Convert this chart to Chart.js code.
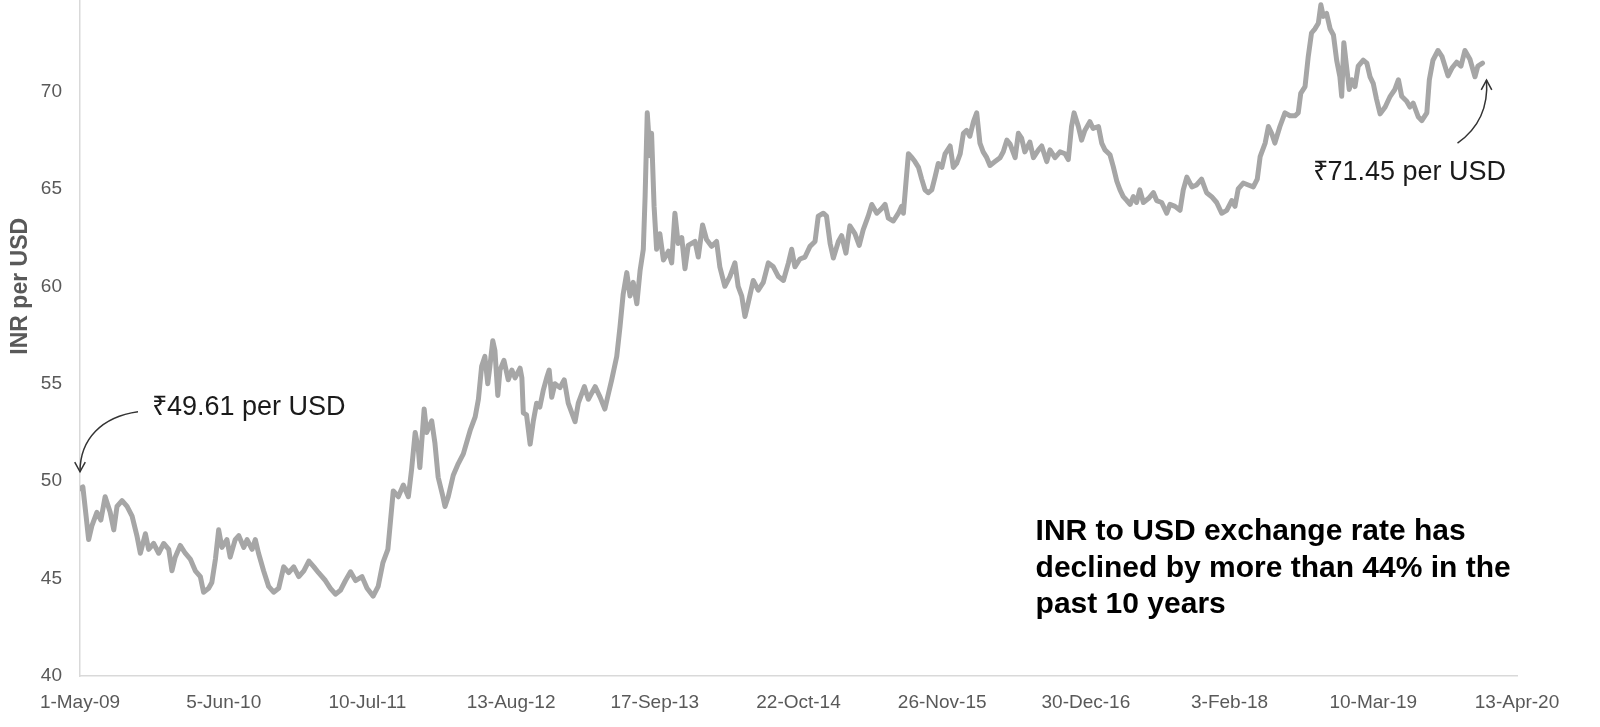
<!DOCTYPE html>
<html><head><meta charset="utf-8">
<script src="https://cdn.jsdelivr.net/npm/chart.js@4.4.1/dist/chart.umd.min.js"></script>
<style>
html,body{margin:0;padding:0;background:#fff;overflow:hidden;width:1600px;height:727px;}
#wrap{position:absolute;left:0;top:-40px;width:1600px;height:767px;}
</style></head><body>
<div id="wrap"><canvas id="c"></canvas></div>
<script>
const tickLabels = ['1-May-09','5-Jun-10','10-Jul-11','13-Aug-12','17-Sep-13','22-Oct-14','26-Nov-15','30-Dec-16','3-Feb-18','10-Mar-19','13-Apr-20'];
const yTitle = 'INR per USD';
const startNote = '₹49.61 per USD';
const endNote = '₹71.45 per USD';
const calloutLines = ['INR to USD exchange rate has','declined by more than 44% in the','past 10 years'];

// days since 1-May-09
const dayOffsets = [0,8,17,24,33,47,58,70,84,94,103,117,131,145,159,168,182,191,205,219,233,247,256,265,279,293,307,321,335,344,358,367,377,386,395,409,418,432,442,456,465,479,488,497,511,525,539,553,567,581,595,609,623,637,651,664,683,697,711,725,739,753,767,785,799,816,830,843,857,863,872,
886,900,914,923,933,942,946,958,965,979,988,997,1009,1016,1025,1039,1053,1067,1086,1100,1109,1118,1127,1135,1141,1149,1155,1163,1169,1180,1192,1202,1211,1225,1230,1234,1243,1253,1262,1271,1280,1290,1299,1306,1313,1322,1336,1348,1359,1369,1378,1387,1404,1415,1434,1448,1461,1471,1480,1494,1503,1512,1522,1531,1540,1550,1559,1568,
1573,1579,1587,1591,1598,1605,1614,1624,1638,1647,1656,1665,1675,1684,1693,1712,1721,1733,1744,1758,1772,1781,1795,1809,1823,1832,1842,1851,1860,1874,1888,1902,1916,1930,1944,1958,1972,1981,1990,2004,2018,2032,2046,2055,2069,2078,2088,2097,2111,2120,2132,2143,2157,2169,2180,2194,2204,2218,2232,2241,2250,2264,2278,2287,2292,2299,2306,
2316,2324,2334,2343,2352,2361,2371,2380,2389,2399,2408,2422,2431,2440,2450,2459,2468,2477,2487,2496,2505,2514,2524,2533,2547,2561,2570,2580,2589,2603,2612,2621,2630,2644,2654,2668,2677,2691,2700,2714,2728,2742,2751,2760,2767,2779,2788,2797,2811,2820,2835,2844,2853,2867,2876,2886,2895,2904,2914,2923,2932,2941,2950,2960,2974,2988,2997,3011,3025,3034,3048,3062,
3071,3081,3095,3108,3122,3136,3150,3164,3178,3192,3206,3215,3224,3238,3252,3266,3277,3285,3299,3308,3317,3326,3340,3354,3368,3382,3391,3398,3410,3419,3428,3437,3447,3454,3461,3470,3480,3489,3498,3507,3512,3518,3526,3533,3540,3549,3558,3572,3582,3591,3600,3609,3619,3633,3647,3660,3670,3679,3693,3702,3711,3725,3735,3749,3756,3766,3780,3791,3808,3819,3832,3844,3855,3869,3883,3891,3904];

const rates = [49.61,49.7,48.2,47.0,47.7,48.4,48.0,49.2,48.4,47.5,48.7,49.0,48.7,48.2,47.15,46.3,47.3,46.5,46.8,46.3,46.8,46.5,45.4,46.1,46.7,46.3,46.0,45.4,45.1,44.3,44.5,44.8,46.0,47.5,46.6,47.0,46.1,47.0,47.2,46.6,47.0,46.5,47.0,46.3,45.4,44.6,44.3,44.5,45.6,45.3,45.6,45.1,45.4,45.9,45.6,45.3,44.9,44.5,44.2,44.4,44.9,45.35,44.9,45.1,44.5,44.1,44.6,45.8,46.5,47.7,49.5,
49.2,49.8,49.2,50.6,52.5,51.6,50.7,53.7,52.5,53.1,51.95,50.2,49.3,48.7,49.2,50.3,50.9,51.4,52.6,53.3,54.2,55.9,56.4,55.0,55.9,57.2,56.7,54.4,55.7,56.2,55.2,55.7,55.3,55.8,55.3,53.5,53.4,51.9,53.1,54.0,53.8,54.7,55.3,55.7,54.3,55.0,54.8,55.2,54.0,53.5,53.05,54.0,54.85,54.2,54.85,54.3,53.7,54.5,55.2,56.4,57.9,59.6,60.7,59.5,60.2,59.1,60.8,61.9,
64.6,68.9,66.7,67.85,64.1,61.9,62.7,61.35,61.8,61.2,63.75,62.2,62.5,60.9,62.1,62.3,61.5,63.15,62.4,62.05,62.3,61.0,60.0,60.5,61.2,60.0,59.5,58.45,59.15,60.3,59.8,60.2,61.2,61.0,60.5,60.3,61.2,61.9,61.0,61.4,61.5,62.05,62.3,63.6,63.75,63.6,62.2,61.45,62.3,62.6,61.7,63.1,62.7,62.1,62.9,63.6,64.2,63.75,64.0,64.2,63.5,63.35,63.75,64.1,63.75,65.3,66.8,
66.6,66.4,66.1,65.5,64.95,64.8,64.95,65.6,66.3,66.1,66.8,67.2,66.1,66.3,66.8,67.85,68.0,67.7,68.45,68.9,67.35,66.9,66.6,66.2,66.4,66.6,66.9,67.5,67.3,66.6,67.85,67.6,66.9,67.4,66.6,67.0,67.2,66.4,67.0,66.6,66.9,66.8,66.5,68.2,68.9,68.2,67.5,68.0,68.45,68.1,68.2,67.35,67.0,66.75,66.15,65.4,64.95,64.6,64.4,64.2,64.6,64.3,64.95,64.3,64.5,64.8,64.4,64.3,63.75,64.2,64.1,63.9,
64.95,65.6,65.1,65.2,65.5,64.8,64.6,64.3,63.75,63.9,64.4,64.1,65.0,65.3,65.2,65.1,65.5,66.65,67.35,68.2,67.85,67.35,68.2,68.9,68.75,68.75,68.9,69.9,70.25,71.8,73.0,73.2,73.5,74.45,73.85,74.0,73.2,72.9,71.6,70.75,69.75,72.5,71.2,70.1,70.6,70.25,71.3,71.6,71.45,70.75,70.4,69.6,68.85,69.2,69.75,70.1,70.6,69.75,69.5,69.2,69.4,68.7,68.5,68.9,70.6,71.6,72.1,71.8,70.8,71.2,71.5,71.3,72.1,71.65,70.75,71.3,71.45];

const FONT = "'Liberation Sans', Arial, Helvetica, sans-serif";
const points = dayOffsets.map((d, i) => ({x: d, y: rates[i]}));

function arrowHead(ctx, tipX, tipY, ang) {
  const L = 11, spread = 0.5;
  ctx.beginPath();
  ctx.moveTo(tipX - L * Math.cos(ang - spread), tipY - L * Math.sin(ang - spread));
  ctx.lineTo(tipX, tipY);
  ctx.lineTo(tipX - L * Math.cos(ang + spread), tipY - L * Math.sin(ang + spread));
  ctx.stroke();
}

const notesPlugin = {
  id: 'notes',
  afterDraw(chart) {
    const ctx = chart.ctx;
    const xs = chart.scales.x, ys = chart.scales.y;
    const ca = chart.chartArea;
    ctx.save();
    // y axis title
    ctx.save();
    ctx.translate(ca.left - 59, ys.getPixelForValue(60.0));
    ctx.rotate(-Math.PI / 2);
    ctx.font = 'bold 23px ' + FONT;
    ctx.fillStyle = '#595959';
    ctx.textAlign = 'center';
    ctx.textBaseline = 'middle';
    ctx.fillText(yTitle, 0, 0);
    ctx.restore();

    // start annotation
    const fx = xs.getPixelForValue(dayOffsets[0]);
    const fy = ys.getPixelForValue(rates[0]);
    ctx.fillStyle = '#1a1a1a';
    ctx.font = '27px ' + FONT;
    ctx.textAlign = 'left';
    ctx.textBaseline = 'middle';
    ctx.fillText(startNote, fx + 72, fy - 81);
    ctx.strokeStyle = '#333';
    ctx.lineWidth = 1.5;
    ctx.beginPath();
    ctx.moveTo(fx + 58, fy - 77);
    ctx.bezierCurveTo(fx + 22, fy - 72, fx, fy - 50, fx, fy - 17);
    ctx.stroke();
    arrowHead(ctx, fx, fy - 17, Math.PI / 2);

    // end annotation
    const lx = xs.getPixelForValue(dayOffsets[dayOffsets.length - 1]);
    const ly = ys.getPixelForValue(rates[rates.length - 1]);
    ctx.fillText(endNote, lx - 170, ly + 109);
    ctx.beginPath();
    ctx.moveTo(lx - 25, ly + 80);
    ctx.bezierCurveTo(lx - 5, ly + 66, lx + 6, ly + 45, lx + 4, ly + 17);
    ctx.stroke();
    arrowHead(ctx, lx + 4, ly + 17, -Math.PI / 2);

    // callout
    ctx.fillStyle = '#000';
    ctx.font = 'bold 30px ' + FONT;
    const cx = xs.getPixelForValue(2660);
    calloutLines.forEach((t, i) => {
      ctx.fillText(t, cx, ys.getPixelForValue(47.6) + 4 + i * 36.5);
    });
    ctx.restore();
  }
};

new Chart(document.getElementById('c'), {
  type: 'line',
  data: {
    datasets: [{
      data: points,
      borderColor: '#a6a6a6',
      borderWidth: 5,
      pointRadius: 0,
      tension: 0,
      borderJoinStyle: 'round',
      borderCapStyle: 'round'
    }]
  },
  options: {
    responsive: true,
    maintainAspectRatio: false,
    animation: false,
    devicePixelRatio: 1,
    layout: {padding: {top: 34, right: 83, left: 0, bottom: 0}},
    plugins: {legend: {display: false}, tooltip: {enabled: false}, title: {display: false}},
    scales: {
      x: {
        type: 'linear',
        min: 0, max: 4000,
        afterFit(s) { s.height = 51; },
        afterBuildTicks(s) { s.ticks = tickLabels.map((_, i) => ({value: i * 400})); },
        grid: {display: false, drawTicks: false},
        border: {display: true, color: '#d9d9d9', width: 1.5},
        ticks: {
          autoSkip: false, maxRotation: 0, padding: 15,
          color: '#595959', font: {family: FONT, size: 19},
          callback: (v, i) => tickLabels[i]
        }
      },
      y: {
        min: 40, max: 75,
        afterFit(s) { s.width = 80; },
        grid: {display: false, drawTicks: false},
        border: {display: true, color: '#d9d9d9', width: 1.5},
        ticks: {stepSize: 5, padding: 18, color: '#595959', font: {family: FONT, size: 19}}
      }
    }
  },
  plugins: [notesPlugin]
});
</script>
</body></html>
